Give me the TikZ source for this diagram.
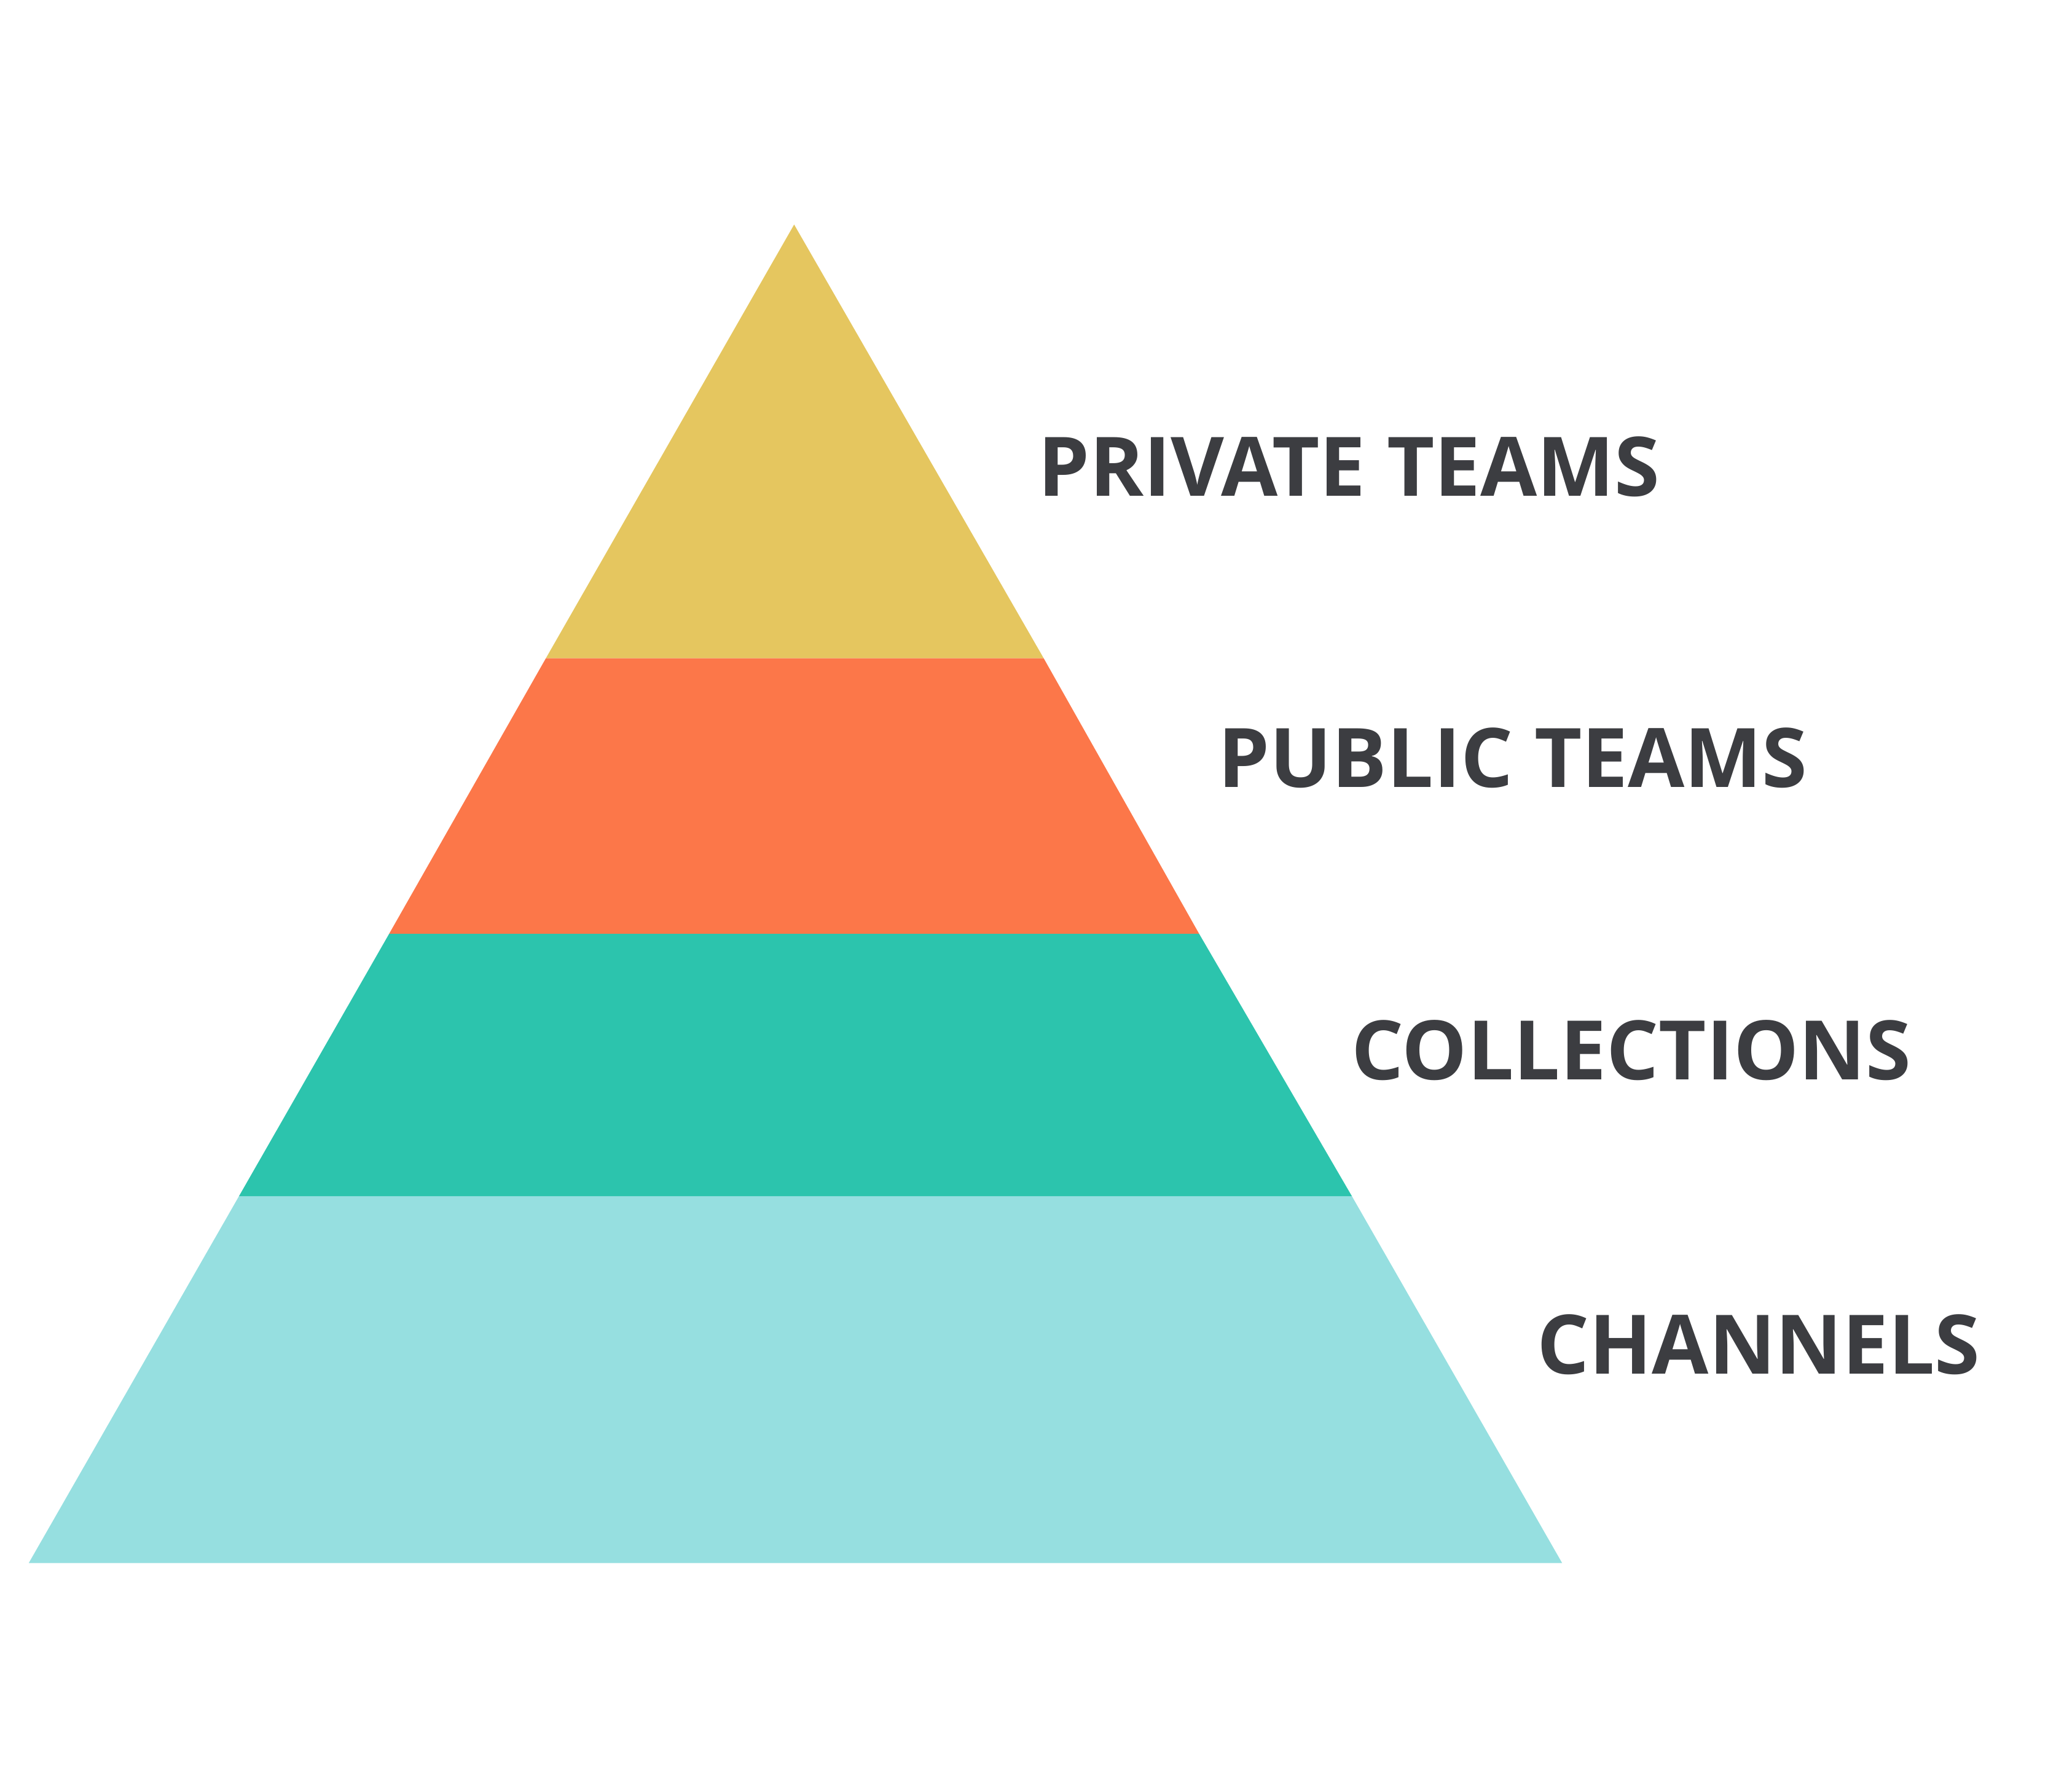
\documentclass[tikz,border=0pt]{standalone}
\usepackage{fontspec}
\setmainfont{Open Sans}
\usepackage{tikz}
\usetikzlibrary{positioning, calc}
\usepackage{xcolor}

\definecolor{layerYellow}{HTML}{E5C65F}
\definecolor{layerOrange}{HTML}{FC7749}
\definecolor{layerTeal}{HTML}{2CC4AD}
\definecolor{layerAqua}{HTML}{96DFE0}
\definecolor{labelGray}{HTML}{3C3D41}

\begin{document}
\begin{tikzpicture}[
    layerlabel/.style={font=\bfseries\fontsize{17.9}{20}\selectfont, text=labelGray, anchor=base west, inner sep=0pt}
  ]
                \useasboundingbox (0,0) rectangle (15.68,13.72);

                % Piramide
                \fill[layerAqua] (0.22,1.75) -- (11.96,1.75) -- (10.35,4.56) -- (1.83,4.56) -- cycle;
                \fill[layerTeal] (1.83,4.56) -- (10.35,4.56) -- (9.18,6.57) -- (2.98,6.57) -- cycle;
                \fill[layerOrange] (2.98,6.57) -- (9.18,6.57) -- (7.99,8.68) -- (4.18,8.68) -- cycle;
                \fill[layerYellow] (4.18,8.68) -- (7.99,8.68) -- (6.08,12.00) -- cycle;

                % Etichette
                \node[layerlabel] (private) at (7.94, 9.92) {PRIVATE TEAMS};
                \node[layerlabel] (public) at (9.32, 7.69) {PUBLIC TEAMS};
                \node[layerlabel] (collections) at (10.34, 5.45) {COLLECTIONS};
                \node[layerlabel] (channels) at (11.76, 3.20) {CHANNELS};
            \end{tikzpicture}
\end{document}
